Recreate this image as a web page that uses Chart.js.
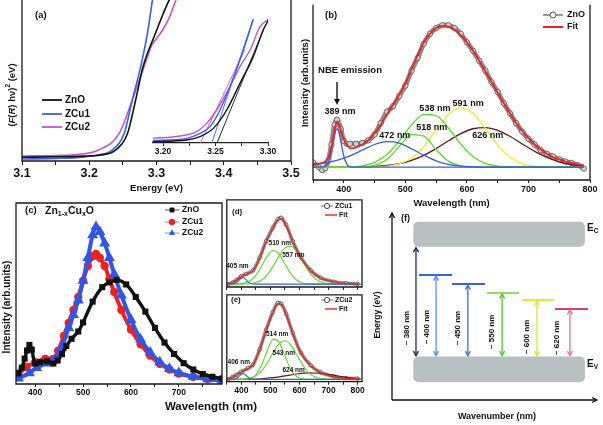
<!DOCTYPE html>
<html><head><meta charset="utf-8">
<script src="https://cdn.jsdelivr.net/npm/chart.js@4.4.1/dist/chart.umd.min.js"></script>
<style>
html,body{margin:0;padding:0;background:#fff;}
body{width:603px;height:425px;position:relative;overflow:hidden;}
canvas{position:absolute;}
</style></head><body>
<canvas id="cA" width="300" height="200" style="left:0;top:0"></canvas>
<canvas id="cAI" width="150" height="150" style="left:140px;top:10px"></canvas>
<canvas id="cB" width="303" height="215" style="left:300px;top:0"></canvas>
<canvas id="cC" width="300" height="225" style="left:0;top:195px"></canvas>
<canvas id="cD" width="148" height="100" style="left:222px;top:195px"></canvas>
<canvas id="cE" width="148" height="112" style="left:222px;top:290px"></canvas>
<canvas id="cF" width="233" height="230" style="left:370px;top:195px"></canvas>
<script>
// ================= DATA =================
// (a) Kubelka-Munk plots
const aZnO_E  = [3.10,3.15,3.19,3.217,3.239,3.257,3.269,3.28,3.2985,3.319,3.33];
const aZnO_V  = [0.023,0.026,0.030,0.037,0.068,0.172,0.379,0.586,0.793,1.0,1.06];
const aZCu1_E = [3.10,3.15,3.19,3.212,3.234,3.252,3.264,3.2765,3.2865,3.294,3.30];
const aZCu1_V = [0.012,0.016,0.024,0.037,0.068,0.172,0.379,0.586,0.793,1.0,1.15];
const aZCu2_E = [3.10,3.15,3.182,3.214,3.2445,3.264,3.2815,3.293,3.300,3.31,3.32,3.329,3.34];
const aZCu2_V = [0.031,0.034,0.040,0.068,0.172,0.379,0.586,0.72,0.76,0.82,0.90,1.0,1.08];
const aTicks = [3.1,3.15,3.2,3.25,3.3,3.35,3.4,3.45,3.5];
const aMajors = [3.1,3.2,3.3,3.4,3.5];
const aLabels = ['3.1','3.2','3.3','3.4','3.5'];
const aSeries = ['ZnO','ZCu1','ZCu2'];
const aColors = ['#111111','#3a5fe8','#c455cc'];
// (a) inset
const iZnO_E  = [3.19,3.2226,3.2352,3.2479,3.2607,3.2733,3.286,3.2955,3.3003];
const iZnO_V  = [0.011,0.024,0.051,0.117,0.264,0.477,0.691,0.904,0.984];
const iZCu1_E = [3.19,3.2226,3.2352,3.2448,3.2543,3.2638,3.2733,3.2797,3.286];
const iZCu1_V = [0.019,0.037,0.077,0.131,0.264,0.451,0.664,0.824,0.99];
const iZCu2_E = [3.19,3.2162,3.232,3.2416,3.2511,3.2638,3.2733,3.2829,3.2924,3.3003];
const iZCu2_V = [0.037,0.056,0.091,0.157,0.264,0.451,0.611,0.744,0.931,0.99];
const iTanZnO_E = [3.2514,3.2955], iTanZnO_V = [0,0.904];
const iTanZCu1_E = [3.2465,3.2857], iTanZCu1_V = [0,0.99];
const iTanZCu2_E = [3.2356,3.278], iTanZCu2_V = [0,0.75];
const iTicks = [3.2,3.225,3.25,3.275,3.3];
const iMajors = [3.2,3.25,3.3];
const iLabels = ['3.20','3.25','3.30'];
// (b) ZnO PL + Gaussian fit
const bData_W = [350,360,365,370,375,380,385,389,395,400,405,410,420,430,440,450,460,470,480,490,500,510,520,530,540,550,560,570,580,590,600,610,620,630,640,650,660,670,680,690,700,710,720,730,740,750,760,770,780,790];
const bData_V = [0.034,0.0,-0.02,-0.007,0.048,0.16,0.30,0.335,0.27,0.185,0.165,0.165,0.165,0.17,0.19,0.23,0.31,0.39,0.43,0.50,0.575,0.68,0.77,0.87,0.94,0.98,1.0,1.0,0.98,0.94,0.88,0.82,0.75,0.68,0.60,0.53,0.45,0.38,0.31,0.25,0.20,0.16,0.12,0.095,0.075,0.055,0.04,0.03,0.015,-0.01];
const bFit_W = [350,360,370,375,380,385,389,393,398,403,410,420,430,440,450,460,470,480,490,500,510,520,530,540,550,560,570,580,590,600,610,620,630,640,650,660,670,680,690,700,710,720,730,740,750,760,770,780,790];
const bFit_V = [0.02,0.025,0.04,0.07,0.14,0.26,0.32,0.29,0.22,0.17,0.135,0.14,0.16,0.19,0.24,0.30,0.37,0.44,0.51,0.59,0.69,0.79,0.88,0.94,0.98,0.995,0.99,0.97,0.93,0.88,0.82,0.75,0.675,0.60,0.525,0.45,0.38,0.31,0.255,0.205,0.16,0.125,0.095,0.07,0.055,0.04,0.03,0.02,0.015];
const b389_W = [350,365,372,378,383,386,389,392,395,400,406,412,420,790];
const b389_V = [0,0.001,0.014,0.079,0.187,0.246,0.27,0.246,0.187,0.079,0.014,0.001,0,0];
const bGrid = [350,370,390,410,430,450,470,490,510,530,550,570,590,610,630,650,670,690,710,730,750,770,790];
const b472 = [0.02,0.03,0.05,0.08,0.12,0.16,0.18,0.17,0.13,0.085,0.045,0.02,0.008,0.003,0,0,0,0,0,0,0,0,0];
const b518 = [0,0,0,0,0.002,0.013,0.055,0.146,0.23,0.219,0.125,0.043,0.009,0.001,0,0,0,0,0,0,0,0,0];
const b538 = [0,0,0.0004,0.002,0.01,0.034,0.09,0.185,0.297,0.372,0.363,0.276,0.163,0.075,0.027,0.008,0.002,0,0,0,0,0,0];
const b591 = [0,0,0,0,0,0.0015,0.007,0.023,0.065,0.146,0.261,0.371,0.42,0.379,0.273,0.157,0.072,0.026,0.008,0.002,0,0,0];
const b626 = [0,0,0.0002,0.0006,0.002,0.005,0.012,0.025,0.049,0.084,0.132,0.186,0.237,0.271,0.279,0.26,0.218,0.164,0.112,0.069,0.038,0.019,0.008];
const bPeakLabels = ['389 nm','472 nm','518 nm','538 nm','591 nm','626 nm'];
const bPeakLabelW = [394,483,543,548,602,634];
const bPeakLabelV = [0.39,0.226,0.28,0.41,0.45,0.226];
const wTicks = [350,400,450,500,550,600,650,700,750,800];
const wMajors = [400,500,600,700,800];
const wLabels = ['400','500','600','700','800'];
// (c) Zn1-xCuxO PL
const cZnO_W = [365,372,378,383,388,393,400,410,425,438,447,456,465,476,490,500,520,540,555,570,590,610,630,650,670,690,710,730,750,770,790];
const cZnO_V = [0.058,0.09,0.14,0.185,0.216,0.19,0.113,0.12,0.125,0.113,0.13,0.165,0.21,0.25,0.29,0.34,0.455,0.535,0.562,0.575,0.55,0.481,0.40,0.31,0.229,0.166,0.115,0.08,0.055,0.04,0.03];
const cZCu1_W = [365,382,400,421,438,448,460,470,480,490,500,510,520,527,535,545,555,565,580,600,620,640,660,680,700,730,760,790];
const cZCu1_V = [0.058,0.094,0.12,0.139,0.139,0.184,0.265,0.337,0.409,0.481,0.571,0.652,0.706,0.719,0.697,0.652,0.58,0.508,0.409,0.301,0.22,0.157,0.112,0.081,0.058,0.04,0.028,0.018];
const cZCu2_W = [365,388,403,424,441,455,470,480,490,500,510,520,527,535,545,555,565,580,600,620,640,660,680,700,730,760,790];
const cZCu2_V = [0.031,0.061,0.09,0.115,0.133,0.2,0.31,0.382,0.463,0.571,0.697,0.823,0.868,0.841,0.778,0.697,0.607,0.49,0.355,0.247,0.175,0.121,0.085,0.061,0.04,0.028,0.022];
const cTicks = [400,450,500,550,600,650,700,750];
const cMajors = [400,500,600,700];
const cLabels = ['400','500','600','700'];
// (d) ZCu1 fit, (e) ZCu2 fit
const dData_W = [355,370,383,400,417,440,463,485,508,525,537,554,577,605,639,673,719,760,800];
const dData_V = [0.0,0.02,0.05,0.10,0.13,0.175,0.34,0.55,0.72,0.83,0.85,0.76,0.55,0.34,0.175,0.08,0.03,0.01,0.0];
const dFit_V  = [0.0,0.02,0.05,0.095,0.125,0.17,0.33,0.54,0.71,0.82,0.84,0.75,0.545,0.335,0.17,0.078,0.028,0.008,0.0];
const dGrid = [350,370,390,410,430,450,470,490,510,530,550,570,590,610,630,650,670,690,710,730,750,770,790,810];
const d510 = [0,0,0.0025,0.012,0.042,0.114,0.233,0.364,0.43,0.384,0.261,0.134,0.052,0.015,0.003,0,0,0,0,0,0,0,0,0];
const d557 = [0,0,0,0.001,0.005,0.019,0.053,0.122,0.232,0.362,0.464,0.487,0.42,0.297,0.173,0.082,0.032,0.01,0.003,0,0,0,0,0];
const d405_W = [350,370,380,390,400,405,410,420,430,440,450,810];
const d405_V = [0,0.001,0.01,0.039,0.078,0.085,0.078,0.039,0.01,0.001,0,0];
const dPeakLabels = ['405 nm','510 nm','557 nm'];
const dPeakLabelW = [386.6,532,579];
const dPeakLabelV = [0.225,0.52,0.375];
const eData_W = [355,370,383,400,423,440,463,485,508,525,537,554,577,605,639,673,719,760,800];
const eData_V = [0.0,0.03,0.06,0.10,0.145,0.19,0.39,0.64,0.87,0.99,0.98,0.85,0.6,0.345,0.18,0.09,0.035,0.015,0.01];
const eFit_V  = [0.0,0.03,0.06,0.095,0.14,0.185,0.38,0.63,0.86,0.98,0.97,0.84,0.595,0.34,0.175,0.088,0.034,0.014,0.01];
const e514 = [0,0,0,0.002,0.014,0.063,0.189,0.381,0.521,0.482,0.301,0.128,0.037,0.007,0.001,0,0,0,0,0,0,0,0,0];
const e543 = [0,0,0,0.0045,0.016,0.047,0.111,0.218,0.35,0.461,0.5,0.444,0.323,0.194,0.095,0.038,0.013,0.003,0,0,0,0,0,0];
const e624_W = [350,390,430,470,510,550,590,630,670,710,750,790,810];
const e624_V = [0,0.0006,0.003,0.009,0.023,0.045,0.07,0.084,0.079,0.058,0.033,0.015,0.009];
const e406_W = [350,370,380,390,400,406,410,420,430,440,450,810];
const e406_V = [0,0.001,0.008,0.031,0.066,0.075,0.071,0.038,0.01,0.001,0,0];
const ePeakLabels = ['406 nm','514 nm','543 nm','624 nm'];
const ePeakLabelW = [391,523,546,580];
const ePeakLabelV = [0.216,0.59,0.345,0.116];
// (f) energy level schematic (schematic units)
const fBandX  = [10.4, 94.1];
const fBandLo = [82.0, 9.5];   // E_C, E_V
const fBandHi = [95.3, 23.2];
const fLabels = ['~ 380 nm','~ 400 nm','~ 450 nm','~ 550 nm','~ 600 nm','~ 620 nm'];
const fArrowX = [11.7, 21.5, 37.0, 53.7, 70.7, 86.8];
const fTopY   = [82.0, 66.8, 62.0, 57.2, 53.5, 48.7];
const fLevelX0 = [null, 13.2, 29.3, 46.3, 63.4, 79.5];
const fLevelX1 = [null, 29.3, 45.4, 62.0, 79.0, 95.6];
const fLabelX = [7.3, 17.1, 32.2, 48.8, 65.9, 80.5];
const fLabelY = [38.5, 39, 38.5, 36.4, 33.7, 33.2];
const fArrowColor = ['#1f2b6b','#5a8fe6','#3d6ee0','#4cc828','#e0e03a','#e07590'];
const fLevelColor = [null,'#3366d6','#3a62e0','#95d960','#e8e830','#d9405f'];

// ================= HELPERS =================
const FF = '"Liberation Sans", Arial, sans-serif';
const fnt = (s, st) => `${st||'bold'} ${s}px ${FF}`;
Chart.defaults.font.family = FF;
Chart.defaults.font.weight = 'bold';
Chart.defaults.color = '#111';

function txt(ctx, s, x, y, font, o) {
  o = o || {};
  ctx.save(); ctx.font = font; ctx.fillStyle = o.color || '#111';
  ctx.textAlign = o.align || 'center'; ctx.textBaseline = 'middle';
  ctx.translate(x, y); if (o.rot) ctx.rotate(o.rot);
  ctx.fillText(s, 0, 0); ctx.restore();
}
function rich(ctx, segs, x, y, o) {
  o = o || {};
  ctx.save(); ctx.translate(x, y); if (o.rot) ctx.rotate(o.rot);
  ctx.textBaseline = 'middle'; ctx.textAlign = 'left'; ctx.fillStyle = '#111';
  let w = 0; for (const s of segs) { ctx.font = s.f; s.w = ctx.measureText(s.t).width; w += s.w; }
  let cx = o.align === 'left' ? 0 : -w / 2;
  for (const s of segs) { ctx.font = s.f; ctx.fillText(s.t, cx, s.dy || 0); cx += s.w; }
  ctx.restore();
}
function seg(ctx, x0, y0, x1, y1) { ctx.beginPath(); ctx.moveTo(x0, y0); ctx.lineTo(x1, y1); ctx.stroke(); }
function vhead(ctx, x, y, dx, dy, w, l) {
  const px = -dy, py = dx;
  ctx.beginPath(); ctx.moveTo(x - dx * l + px * w, y - dy * l + py * w); ctx.lineTo(x, y);
  ctx.lineTo(x - dx * l - px * w, y - dy * l - py * w); ctx.stroke();
}
function H(c) { const xs = c.scales.x, ys = c.scales.y; return { ctx: c.ctx, X: v => xs.getPixelForValue(v), Y: v => ys.getPixelForValue(v) }; }
function pt(ctx, style, x, y, r, fill, stroke) {
  ctx.save(); ctx.fillStyle = fill; ctx.strokeStyle = stroke;
  Chart.helpers.drawPoint(ctx, { pointStyle: style, radius: r, borderWidth: 0.8, rotation: 0 }, x, y);
  ctx.restore();
}
function makeFrame(top) {
  return { id: 'frame', afterDatasetsDraw(c) {
    const a = c.chartArea, ctx = c.ctx; ctx.save(); ctx.strokeStyle = '#1a1a1a'; ctx.lineWidth = 1.3;
    ctx.beginPath();
    if (top) { ctx.rect(a.left, a.top, a.right - a.left, a.bottom - a.top); }
    else { ctx.moveTo(a.left, a.top); ctx.lineTo(a.left, a.bottom); ctx.lineTo(a.right, a.bottom); ctx.lineTo(a.right, a.top); }
    ctx.stroke(); ctx.restore(); } };
}
const frame = makeFrame(true), frameOpen = makeFrame(false);

function xAxis(o) {
  return { type: 'linear', min: o.min, max: o.max,
    afterBuildTicks: s => { s.ticks = o.ticks.map(v => ({ value: v })); },
    afterFit: s => { s.height = o.height; s.paddingLeft = 0; s.paddingRight = 0; },
    ticks: { autoSkip: false, maxRotation: 0, minRotation: 0, padding: o.tpad === undefined ? 1 : o.tpad, color: '#111',
      font: { size: o.size, weight: 'bold' },
      callback: v => { const i = o.majors.findIndex(m => Math.abs(m - v) < 1e-7); return i < 0 ? '' : o.labels[i]; } },
    grid: { drawOnChartArea: false, drawTicks: true, tickLength: o.tl || 3, color: '#222', lineWidth: 1 },
    border: { display: !!o.border, color: '#222', width: 1.2 },
    title: o.title || { display: false } };
}
function S(xs, ys, color, w, extra) {
  return Object.assign({ data: xs.map((x, i) => ({ x: x, y: ys[i] })), borderColor: color, backgroundColor: color,
    borderWidth: w, pointRadius: 0, fill: false }, extra || {});
}
function build(id, datasets, x, ymin, ymax, pad, plugins) {
  return new Chart(document.getElementById(id), { type: 'line', data: { datasets: datasets },
    options: { responsive: false, animation: false, devicePixelRatio: 1, events: [],
      layout: { padding: pad },
      plugins: { legend: { display: false }, tooltip: { enabled: false }, title: { display: false } },
      elements: { line: { tension: 0.35 }, point: { radius: 0 } },
      scales: { x: x, y: { type: 'linear', display: false, min: ymin, max: ymax } } },
    plugins: plugins });
}
const gray = (xs, ys, w, r) => S(xs, ys, '#8c8c8c', w, { pointRadius: r, pointBorderColor: '#555', pointBackgroundColor: '#cfcfcf', pointBorderWidth: 0.8 });
const BLUE = '#3a5fdd', GREEN = '#5fd62a', YELLOW = '#ecec30', BROWN = '#5e1a1a', RED = '#ee2222';

// ================= (a) =================
build('cA', [
  S(aZnO_E, aZnO_V, aColors[0], 1.6, { cubicInterpolationMode: 'monotone' }),
  S(aZCu1_E, aZCu1_V, aColors[1], 1.6, { cubicInterpolationMode: 'monotone' }),
  S(aZCu2_E, aZCu2_V, aColors[2], 1.6, { cubicInterpolationMode: 'monotone' })
], xAxis({ min: 3.1, max: 3.5, ticks: aTicks, majors: aMajors, labels: aLabels, size: 12.5, height: 39, tl: 4,
  title: { display: true, text: 'Energy (eV)', font: { size: 9.5, weight: 'bold' }, color: '#111', padding: { top: 0, bottom: 6 } } }),
  0, 1, { left: 22, right: 9, top: 0, bottom: 0 },
  [frameOpen, { id: 'aann', afterDraw(c) {
    const ctx = c.ctx;
    txt(ctx, '(a)', 35, 15, fnt(9.5), { align: 'left' });
    rich(ctx, [{ t: '(', f: fnt(9.5) }, { t: 'F', f: fnt(9.5, 'italic bold') }, { t: '(', f: fnt(9.5) },
      { t: 'R', f: fnt(9.5, 'italic bold') }, { t: ') h\u03bd)', f: fnt(9.5) }, { t: '2', f: fnt(6.5), dy: -4 },
      { t: ' (eV)', f: fnt(9.5) }], 12, 95, { rot: -Math.PI / 2 });
    const ly = [100, 114, 127];
    aSeries.forEach((s, i) => { ctx.save(); ctx.strokeStyle = aColors[i]; ctx.lineWidth = 1.8; seg(ctx, 42, ly[i], 62, ly[i]); ctx.restore();
      txt(ctx, s, 65, ly[i], fnt(10), { align: 'left' }); });
  } }]);

// inset
build('cAI', [
  S(iZnO_E, iZnO_V, aColors[0], 1.4, { cubicInterpolationMode: 'monotone' }),
  S(iZCu1_E, iZCu1_V, aColors[1], 1.4, { cubicInterpolationMode: 'monotone' }),
  S(iZCu2_E, iZCu2_V, aColors[2], 1.4, { cubicInterpolationMode: 'monotone' }),
  S(iTanZnO_E, iTanZnO_V, aColors[0], 0.9),
  S(iTanZCu1_E, iTanZCu1_V, aColors[1], 0.9),
  S(iTanZCu2_E, iTanZCu2_V, aColors[2], 0.9)
], xAxis({ min: 3.19, max: 3.30, ticks: iTicks, majors: iMajors, labels: iLabels, size: 8.5, height: 17, tl: 3, border: true }),
  0, 1, { left: 12.5, right: 22, top: 8, bottom: 0 }, []);

// ================= (b) =================
build('cB', [
  S(bFit_W, bFit_V, RED, 1.8),
  S(b389_W, b389_V, BLUE, 1.3, { cubicInterpolationMode: 'monotone' }),
  S(bGrid, b472, BLUE, 1.3, { cubicInterpolationMode: 'monotone' }),
  S(bGrid, b518, GREEN, 1.3, { cubicInterpolationMode: 'monotone' }),
  S(bGrid, b538, GREEN, 1.3, { cubicInterpolationMode: 'monotone' }),
  S(bGrid, b591, YELLOW, 1.3, { cubicInterpolationMode: 'monotone' }),
  S(bGrid, b626, BROWN, 1.3, { cubicInterpolationMode: 'monotone' }),
  gray(bData_W, bData_V, 5, 2.7)
], xAxis({ min: 350, max: 800, ticks: wTicks, majors: wMajors, labels: wLabels, size: 9, height: 35, tl: 3,
  title: { display: true, text: 'Wavelength (nm)', font: { size: 9.5, weight: 'bold' }, color: '#111', padding: { top: 0, bottom: 6 } } }),
  -0.09, 1.144, { left: 13, right: 13, top: 0, bottom: 0 },
  [frameOpen, { id: 'bann', afterDraw(c) {
    const { ctx, X, Y } = H(c);
    txt(ctx, '(b)', 25, 15, fnt(9.5), { align: 'left' });
    txt(ctx, 'Intensity (arb.units)', 5, 83, fnt(9.5), { rot: -Math.PI / 2 });
    txt(ctx, 'NBE emission', 50, 70, fnt(9.5));
    const ax = X(389);
    ctx.save(); ctx.strokeStyle = '#111'; ctx.fillStyle = '#111'; ctx.lineWidth = 1.4;
    seg(ctx, ax, Y(0.6), ax, Y(0.46));
    ctx.beginPath(); ctx.moveTo(ax, Y(0.44)); ctx.lineTo(ax - 3, Y(0.48)); ctx.lineTo(ax + 3, Y(0.48)); ctx.closePath(); ctx.fill();
    ctx.restore();
    bPeakLabels.forEach((s, i) => txt(ctx, s, X(bPeakLabelW[i]), Y(bPeakLabelV[i]), fnt(9)));
    ctx.save(); ctx.lineWidth = 2; ctx.strokeStyle = '#9a9a9a'; seg(ctx, 243, 15, 263, 15); ctx.restore();
    pt(ctx, 'circle', 253, 15, 3, '#ffffff', '#555');
    txt(ctx, 'ZnO', 267, 15, fnt(9), { align: 'left' });
    ctx.save(); ctx.lineWidth = 2; ctx.strokeStyle = RED; seg(ctx, 243, 27, 263, 27); ctx.restore();
    txt(ctx, 'Fit', 267, 27, fnt(9), { align: 'left' });
  } }]);

// ================= (c) =================
build('cC', [
  S(cZnO_W, cZnO_V, '#111', 3.4, { pointRadius: 1.9, pointStyle: 'rect', pointBackgroundColor: '#111', pointBorderColor: '#111' }),
  S(cZCu2_W, cZCu2_V, '#3056e8', 4, { pointRadius: 2.4, pointStyle: 'triangle', pointBackgroundColor: '#3056e8', pointBorderColor: '#3056e8' }),
  S(cZCu1_W, cZCu1_V, '#ee2020', 4, { pointRadius: 2.2, pointStyle: 'circle', pointBackgroundColor: '#ee2020', pointBorderColor: '#ee2020' })
], xAxis({ min: 360, max: 790, ticks: cTicks, majors: cMajors, labels: cLabels, size: 8.5, height: 36, tl: 3 }),
  0, 1, { left: 16, right: 78, top: 4, bottom: 0 },
  [frame, { id: 'cann', afterDraw(c) {
    const ctx = c.ctx;
    txt(ctx, '(c)', 25, 15, fnt(9.5), { align: 'left' });
    rich(ctx, [{ t: 'Zn', f: fnt(10.5) }, { t: '1-x', f: fnt(7), dy: 3 }, { t: 'Cu', f: fnt(10.5) }, { t: 'x', f: fnt(7), dy: 3 }, { t: 'O', f: fnt(10.5) }],
      45, 16, { align: 'left' });
    txt(ctx, 'Intensity (arb.units)', 7, 112, fnt(10), { rot: -Math.PI / 2 });
    txt(ctx, 'Wavelength (nm)', 211, 212, fnt(11.5));
    const rows = [15, 27, 38], lc = ['#777', '#f08a8a', '#8fa8f0'], st = ['rect', 'circle', 'triangle'], mc = ['#111', '#ee2020', '#3056e8'];
    aSeries.forEach((s, i) => {
      ctx.save(); ctx.strokeStyle = lc[i]; ctx.lineWidth = 1.2; seg(ctx, 165, rows[i], 179, rows[i]); ctx.restore();
      pt(ctx, st[i], 172, rows[i], 2.8, mc[i], mc[i]);
      txt(ctx, s, 182, rows[i], fnt(8.5), { align: 'left' });
    });
  } }]);

// ================= (d) =================
function fitLegend(ctx, name, y1, y2) {
  ctx.save(); ctx.lineWidth = 1.2; ctx.strokeStyle = '#888'; seg(ctx, 99, y1, 111, y1); ctx.restore();
  pt(ctx, 'circle', 105, y1, 2.6, '#ffffff', '#444');
  txt(ctx, name, 113, y1, fnt(7), { align: 'left' });
  ctx.save(); ctx.lineWidth = 1.4; ctx.strokeStyle = RED; seg(ctx, 103, y2, 115, y2); ctx.restore();
  txt(ctx, 'Fit', 117, y2, fnt(7), { align: 'left' });
}
build('cD', [
  S(dData_W, dFit_V, RED, 1.3),
  S(d405_W, d405_V, BLUE, 1.1, { cubicInterpolationMode: 'monotone' }),
  S(dGrid, d510, GREEN, 1.1, { cubicInterpolationMode: 'monotone' }),
  S(dGrid, d557, GREEN, 1.1, { cubicInterpolationMode: 'monotone' }),
  gray(dData_W, dData_V, 3.5, 1.8)
], xAxis({ min: 350, max: 815, ticks: wTicks, majors: [], labels: [], size: 8, height: 8, tl: 3 }),
  -0.0375, 1.081, { left: 4, right: 8, top: 2.5, bottom: 0 },
  [frame, { id: 'dann', afterDraw(c) {
    const { ctx, X, Y } = H(c);
    txt(ctx, '(d)', 10, 16.7, fnt(8), { align: 'left' });
    dPeakLabels.forEach((s, i) => txt(ctx, s, X(dPeakLabelW[i]), Y(dPeakLabelV[i]), fnt(6.5)));
    fitLegend(ctx, 'ZCu1', 11, 20);
  } }]);

// ================= (e) =================
build('cE', [
  S(eData_W, eFit_V, RED, 1.3),
  S(e406_W, e406_V, BLUE, 1.1, { cubicInterpolationMode: 'monotone' }),
  S(dGrid, e514, GREEN, 1.1, { cubicInterpolationMode: 'monotone' }),
  S(dGrid, e543, GREEN, 1.1, { cubicInterpolationMode: 'monotone' }),
  S(e624_W, e624_V, BROWN, 1.1, { cubicInterpolationMode: 'monotone' }),
  gray(eData_W, eData_V, 3.5, 1.8)
], xAxis({ min: 350, max: 815, ticks: wTicks, majors: wMajors, labels: wLabels, size: 8.5, height: 20.3, tl: 3 }),
  -0.03, 1.095, { left: 4, right: 8, top: 1.7, bottom: 0 },
  [frame, { id: 'eann', afterDraw(c) {
    const { ctx, X, Y } = H(c);
    txt(ctx, '(e)', 9, 10, fnt(8), { align: 'left' });
    ePeakLabels.forEach((s, i) => txt(ctx, s, X(ePeakLabelW[i]), Y(ePeakLabelV[i]), fnt(6.5)));
    fitLegend(ctx, 'ZCu2', 10, 19);
  } }]);

// ================= (f) =================
build('cF', [], { type: 'linear', display: false, min: 0, max: 100 }, 0, 100,
  { left: 22, right: 6, top: 18, bottom: 25 },
  [{ id: 'fdraw', afterDraw(c) {
    const { ctx, X, Y } = H(c);
    ctx.save();
    ctx.fillStyle = '#b9c0c1';
    for (let i = 0; i < fBandLo.length; i++) {
      ctx.beginPath();
      ctx.roundRect(X(fBandX[0]), Y(fBandHi[i]), X(fBandX[1]) - X(fBandX[0]), Y(fBandLo[i]) - Y(fBandHi[i]), 5);
      ctx.fill();
    }
    ctx.strokeStyle = '#111'; ctx.lineWidth = 1.3;
    seg(ctx, X(0), Y(0), X(0), Y(100)); vhead(ctx, X(0), Y(100), 0, -1, 2.5, 5);
    seg(ctx, X(0), Y(0), X(100), Y(0)); vhead(ctx, X(100), Y(0), 1, 0, 2.5, 5);
    for (let i = 1; i < fLevelX0.length; i++) {
      ctx.strokeStyle = fLevelColor[i]; ctx.lineWidth = 2;
      seg(ctx, X(fLevelX0[i]), Y(fTopY[i]), X(fLevelX1[i]), Y(fTopY[i]));
    }
    for (let i = 0; i < fArrowX.length; i++) {
      const x = X(fArrowX[i]), y0 = Y(fTopY[i]), y1 = Y(fBandHi[1]);
      ctx.strokeStyle = fArrowColor[i]; ctx.lineWidth = 1.3;
      seg(ctx, x, y0 + 1, x, y1 - 1);
      vhead(ctx, x, y0 + 1, 0, -1, 2.5, 4.5); vhead(ctx, x, y1 - 1, 0, 1, 2.5, 4.5);
      txt(ctx, fLabels[i], X(fLabelX[i]), Y(fLabelY[i]), fnt(8), { rot: -Math.PI / 2 });
    }
    ctx.restore();
    txt(ctx, 'Energy (eV)', 8, 120, fnt(8.5), { rot: -Math.PI / 2 });
    txt(ctx, '(f)', 31, 24, fnt(9), { align: 'left' });
    rich(ctx, [{ t: 'E', f: fnt(10) }, { t: 'C', f: fnt(6.5), dy: 3 }], 217, 33, { align: 'left' });
    rich(ctx, [{ t: 'E', f: fnt(10) }, { t: 'V', f: fnt(6.5), dy: 3 }], 217, 169, { align: 'left' });
    txt(ctx, 'Wavenumber (nm)', 127, 222, fnt(9));
  } }]);
</script>
</body></html>
